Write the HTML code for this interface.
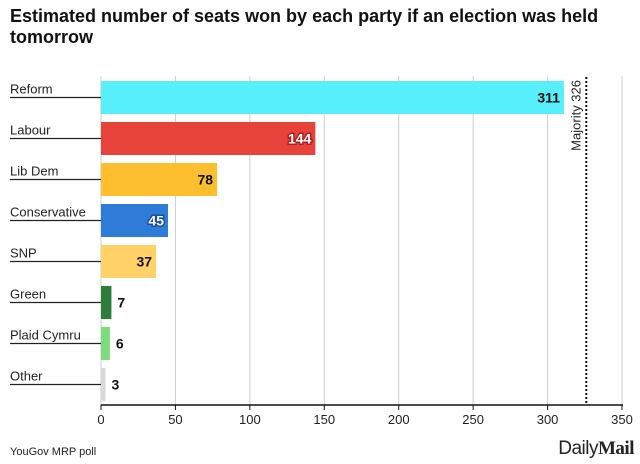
<!DOCTYPE html>
<html><head><meta charset="utf-8"><style>
body{margin:0;width:640px;height:464px;background:#fff;font-family:"Liberation Sans",sans-serif;overflow:hidden;position:relative}
#title{position:absolute;left:10px;top:6px;width:620px;font-size:18px;font-weight:bold;line-height:21px;color:#111}
#src{position:absolute;left:10px;top:446px;font-size:11px;color:#222}
#logo{position:absolute;right:6px;top:438px;font-size:19px;color:#222;letter-spacing:-0.5px}
#logo b{font-family:"Liberation Serif",serif;font-weight:900}
</style></head><body>
<div id="title">Estimated number of seats won by each party if an election was held tomorrow</div>
<svg id="chart" width="640" height="464" style="position:absolute;left:0;top:0"></svg>
<div id="src">YouGov MRP poll</div>
<div id="logo">Daily<b>Mail</b></div>
<script>
const parties=["Reform","Labour","Lib Dem","Conservative","SNP","Green","Plaid Cymru","Other"];
const seats=[311,144,78,45,37,7,6,3];
const colors=["#57EFFA","#E8433A","#FDBF2D","#2E7BD8","#FFD166","#2E7D3B","#7DDC7D","#D8D8D8"];
const ticks=[0,50,100,150,200,250,300,350];
const majority=326;
const NS="http://www.w3.org/2000/svg";
const svg=document.getElementById('chart');
const x0=101,x1=622,xmax=350,top0=81,pitch=41,bh=33,base=405;
const x=v=>x0+v/xmax*(x1-x0);
const y=i=>top0+i*pitch;
function mk(t,a,p){const e=document.createElementNS(NS,t);for(const k in a)e.setAttribute(k,a[k]);(p||svg).appendChild(e);return e;}
ticks.forEach(t=>{
  const g=mk('line',{x1:x(t),x2:x(t),y1:76,y2:base,stroke:'#ccc','stroke-width':1});
  
  
  const l=mk('text',{x:x(t),y:base+19,'text-anchor':'middle','font-size':13,fill:'#222'});
  l.textContent=t;
  
  
});
parties.forEach((p,i)=>{
  const yy=y(i),w=x(seats[i])-x0;
  const r=mk('rect',{x:x0,y:yy,width:w,height:bh,fill:colors[i]});
  
  
  const ln=mk('line',{x1:10,x2:x0,y1:yy+bh/2,y2:yy+bh/2,stroke:'#222','stroke-width':1.2});
  
  
  const t=mk('text',{x:10,y:yy+bh/2-4,'font-size':13,fill:'#222'});
  t.textContent=p;
  
  
  const inside=seats[i]>=20;
  const white=(i==1||i==3);
  const v=mk('text',{x:inside?x(seats[i])-4:x(seats[i])+6,y:yy+bh/2+5,'font-size':14,'font-weight':'bold','text-anchor':inside?'end':'start',fill:white?'#fff':'#111'});
  if(inside){v.setAttribute('stroke',white?(i==1?'#b02020':'#1a4fa0'):colors[i]);v.setAttribute('stroke-width',3);v.setAttribute('paint-order','stroke');}
  v.textContent=seats[i];
  
  
});
const ax=mk('line',{x1:x0,x2:x1+1,y1:base,y2:base,stroke:'#111','stroke-width':1.5});


ticks.forEach(t=>{const k=mk('line',{x1:x(t),x2:x(t),y1:base,y2:base+5,stroke:'#111'});

});
const mx=x(majority);
const ml=mk('line',{x1:mx,x2:mx,y1:77,y2:base,stroke:'#111','stroke-width':2,'stroke-dasharray':'2,2'});


const mt=mk('text',{x:0,y:0,'font-size':13,fill:'#222',transform:`translate(${mx-6},80) rotate(-90)`,'text-anchor':'end'});
mt.textContent='Majority 326';


</script>
</body></html>
